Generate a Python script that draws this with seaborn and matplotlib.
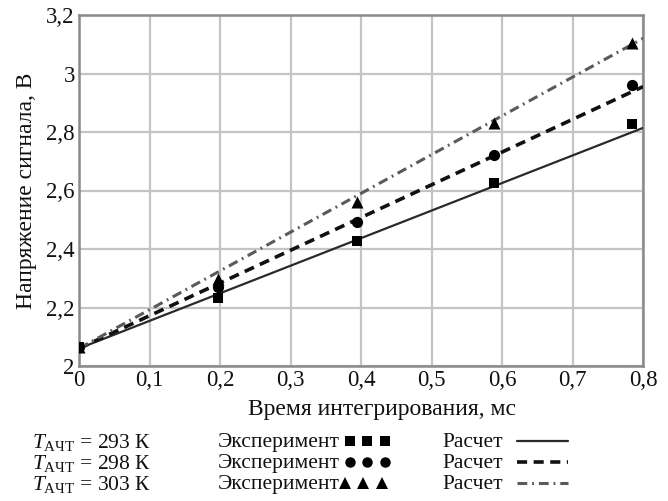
import matplotlib
matplotlib.use("Agg")
import matplotlib.pyplot as plt
from matplotlib.lines import Line2D
import seaborn as sns
import pandas as pd

# ---- data ----
x_exp = [0.0, 0.197, 0.394, 0.589, 0.784]
exp_293 = [2.065, 2.233, 2.428, 2.625, 2.829]
exp_298 = [2.065, 2.269, 2.492, 2.721, 2.961]
exp_303 = [2.065, 2.297, 2.562, 2.832, 3.104]

x_calc = [0.0, 0.8]
calc_293 = [2.06, 2.814]
calc_298 = [2.06, 2.955]
calc_303 = [2.06, 3.12]

x_ticks = [0, 0.1, 0.2, 0.3, 0.4, 0.5, 0.6, 0.7, 0.8]
x_ticklabels = ["0", "0,1", "0,2", "0,3", "0,4", "0,5", "0,6", "0,7", "0,8"]
y_ticks = [2.0, 2.2, 2.4, 2.6, 2.8, 3.0, 3.2]
y_ticklabels = ["2", "2,2", "2,4", "2,6", "2,8", "3", "3,2"]

temps = ["293", "298", "303"]
x_label = "Время интегрирования, мс"
y_label = "Напряжение сигнала, В"

sns.set_theme(style="whitegrid")
plt.rcParams["font.family"] = ["Liberation Serif", "DejaVu Serif"]
plt.rcParams["mathtext.fontset"] = "custom"
plt.rcParams["mathtext.rm"] = "Liberation Serif"
plt.rcParams["mathtext.it"] = "Liberation Serif:italic"

W, H = 668, 501
fig = plt.figure(figsize=(W / 100, H / 100), dpi=100)
ax = fig.add_axes([79 / W, 1 - 366 / H, (643 - 79) / W, (366 - 15) / H])

calc_df = pd.DataFrame({"x": x_calc * 3,
                        "y": calc_293 + calc_298 + calc_303,
                        "T": [t for t in temps for _ in x_calc]})
exp_df = pd.DataFrame({"x": x_exp * 3,
                       "y": exp_293 + exp_298 + exp_303,
                       "T": [t for t in temps for _ in x_exp]})

line_styles = {
    "293": dict(color="#2a2a2a", lw=1.6, dashes=None),
    "298": dict(color="#111111", lw=2.6, dashes=(2.8, 1.8)),
    "303": dict(color="#5a5a5a", lw=2.2, dashes=(3.2, 1.6, 0.6, 1.6)),
}
for t in temps:
    st = line_styles[t]
    sub = calc_df[calc_df["T"] == t]
    sns.lineplot(data=sub, x="x", y="y", ax=ax, color=st["color"], lw=st["lw"],
                 legend=False, zorder=3)
    if st["dashes"] is not None:
        ax.lines[-1].set_dashes(st["dashes"])

markers = {"293": "s", "298": "o", "303": "^"}
sizes = {"293": 55, "298": 65, "303": 75}
for t in temps:
    sub = exp_df[exp_df["T"] == t]
    sns.scatterplot(data=sub, x="x", y="y", ax=ax, marker=markers[t], s=sizes[t],
                    color="black", edgecolor="black", linewidth=0, zorder=4,
                    legend=False)

ax.set_xlim(0, 0.8)
ax.set_ylim(2.0, 3.2)
ax.set_xticks(x_ticks)
ax.set_xticklabels(x_ticklabels)
ax.set_yticks(y_ticks)
ax.set_yticklabels(y_ticklabels)
ax.grid(True, color="#c4c4c4", lw=1.6)
ax.set_axisbelow(True)
for sp in ax.spines.values():
    sp.set_color("#8a8a8a")
    sp.set_linewidth(1.8)
ax.tick_params(axis="both", length=0, labelsize=16.5, colors="#111111", pad=3)
ax.set_xlabel(x_label, fontsize=17, color="#111111")
ax.xaxis.set_label_coords((382 - 79) / (643 - 79), -(409 - 366) / (366 - 15))
ax.xaxis.label.set_va("center")
ax.set_ylabel(y_label, fontsize=17, color="#111111")
ax.yaxis.set_label_coords(-(79 - 27) / (643 - 79), 0.5)
ax.yaxis.label.set_va("center")

# ---- legend block below the chart ----
def fy(py):
    return 1 - py / H

rows = [440, 461, 482]
fs = 15.5
for i, t in enumerate(temps):
    yy = fy(rows[i])
    fig.text(32 / W, yy, r"$\mathit{T}_{\mathrm{АЧТ}}$" + f" = {t} К", fontsize=fs,
             va="center_baseline", ha="left", color="#111111")
    fig.text(218 / W, yy, "Эксперимент", fontsize=fs, va="center_baseline",
             ha="left", color="#111111")
    fig.text(442 / W, yy, "Расчет", fontsize=fs, va="center_baseline",
             ha="left", color="#111111")

mk_x = [[350, 367, 385], [350, 367, 385], [345, 363, 382]]
mk_sz = [7, 7.5, 8.5]
for i, t in enumerate(temps):
    yy = fy(rows[i] + 1)
    fig.add_artist(Line2D([v / W for v in mk_x[i]], [yy] * 3, transform=fig.transFigure,
                          marker=markers[t], ms=mk_sz[i], ls="none", color="black",
                          mew=0))
    st = line_styles[t]
    ln = Line2D([517 / W, 568 / W], [yy, yy], transform=fig.transFigure,
                color=st["color"], lw=st["lw"])
    if st["dashes"] is not None:
        ln.set_dashes(st["dashes"])
    fig.add_artist(ln)

fig.savefig("out.png", dpi=100)
